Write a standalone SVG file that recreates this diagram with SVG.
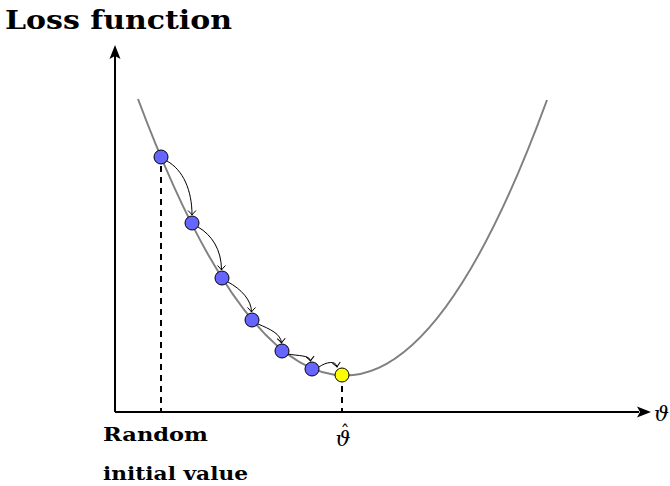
<svg xmlns="http://www.w3.org/2000/svg" width="670" height="486" viewBox="0 0 670 486">
<defs>
<style>
.axis{stroke:#000;stroke-width:2;fill:none}
.dash{stroke:#000;stroke-width:2;stroke-dasharray:6,5;fill:none}
.curve{stroke:#808080;stroke-width:2;fill:none}
.step{stroke:#000;stroke-width:1;fill:none;marker-end:url(#to)}
.pt{fill:#6666ff;stroke:#000;stroke-width:1}
.opt{fill:#ffff00;stroke:#000;stroke-width:1}
.lbl{font-family:"DejaVu Serif","Liberation Serif",serif;font-weight:bold;fill:#000}
.math{font-family:"DejaVu Serif","Liberation Serif",serif;font-style:italic;fill:#000}
</style>
<marker id="to" viewBox="-6 -5 8 10" markerWidth="8" markerHeight="10" refX="0" refY="0" orient="auto" markerUnits="userSpaceOnUse">
<path d="M-4.5,-4 Q-1.5,-1 0,0 Q-1.5,1 -4.5,4" stroke="#000" stroke-width="1" fill="none"/>
</marker>
</defs>
<g id="axes">
<line class="axis" x1="115" y1="412" x2="115" y2="56"/>
<polygon points="115,45 109.5,59 115,56 120.5,59" fill="#000"/>
<line class="axis" x1="115" y1="412" x2="639" y2="412"/>
<polygon points="651,412 637,406.5 640,412 637,417.5" fill="#000"/>
</g>
<g id="loss-curve">
<path class="curve" d="M138,99 Q241.5,375.5 345,375.5 Q446,375.5 547,100"/>
</g>
<g id="guides">
<line class="dash" x1="161" y1="166" x2="161" y2="412"/>
<line class="dash" x1="342" y1="386" x2="342" y2="412"/>
</g>
<g id="connectors">
<path class="step" d="M167,161 C183,170 192,190 192,215"/>
<path class="step" d="M198,227 C212,235 221.5,250 221.5,270"/>
<path class="step" d="M228,282 C241,289 251.5,300 251.5,312"/>
<path class="step" d="M258,324 C270,329 281,334 281.5,343"/>
<path class="step" d="M288,354 C298,356 310,355 310.5,361"/>
<path class="step" d="M319,367 C326,362 336,360 337,367"/>
</g>
<g id="n1"><circle class="pt" cx="161" cy="157" r="7"/></g>
<g id="n2"><circle class="pt" cx="192" cy="223" r="7"/></g>
<g id="n3"><circle class="pt" cx="222" cy="278" r="7"/></g>
<g id="n4"><circle class="pt" cx="252" cy="320" r="7"/></g>
<g id="n5"><circle class="pt" cx="282" cy="351" r="7"/></g>
<g id="n6"><circle class="pt" cx="312" cy="369" r="7"/></g>
<g id="n-opt"><circle class="opt" cx="342" cy="375" r="7"/></g>
<g id="labels">
<text class="lbl" x="5" y="29" font-size="26" textLength="227" lengthAdjust="spacingAndGlyphs">Loss function</text>
<text class="lbl" x="103" y="441" font-size="18" textLength="105" lengthAdjust="spacingAndGlyphs">Random</text>
<text class="lbl" x="103" y="480" font-size="18" textLength="145" lengthAdjust="spacingAndGlyphs">initial value</text>
<text class="math" x="654" y="421" font-size="21">ϑ</text>
<text class="math" font-size="21" text-anchor="middle"><tspan x="343" y="446">ϑ</tspan><tspan x="345" y="439" font-style="normal" font-size="18">ˆ</tspan></text>
</g>
</svg>
